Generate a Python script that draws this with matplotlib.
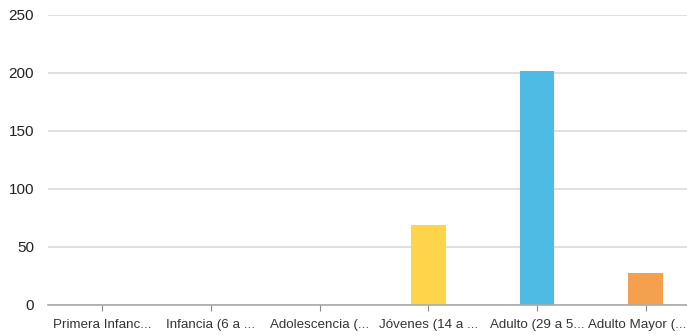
import matplotlib.pyplot as plt
import matplotlib.transforms as mtransforms
import numpy as np

categories = ["Primera Infanc...", "Infancia (6 a ...", "Adolescencia (...",
              "Jóvenes (14 a ...", "Adulto (29 a 5...", "Adulto Mayor (..."]
values = [0, 0, 0, 69, 202, 28]
colors = ["#4DBBE3", "#4DBBE3", "#4DBBE3", "#FDD44A", "#4DBBE3", "#F4A04E"]
yticks = [0, 50, 100, 150, 200, 250]

plt.rcParams['font.family'] = ['Liberation Sans', 'DejaVu Sans']

fig = plt.figure(figsize=(6.87, 3.35), dpi=100)
W, H = 687, 335
ax = fig.add_axes([48 / W, (H - 305) / H, (700 - 48) / W, 290 / H])

x = np.arange(len(categories))
ax.bar(x, values, width=0.32, color=colors, zorder=3)

ax.set_xlim(-0.5, len(categories) - 0.5)
ax.set_ylim(0, 250)
ax.set_yticks(yticks)
ax.set_xticks(x)
ax.set_xticklabels(categories)
ax.grid(axis='y', color='#D9D9D9', linewidth=1.2, zorder=0)
ax.set_axisbelow(True)

for s in ['top', 'right', 'left']:
    ax.spines[s].set_visible(False)
ax.spines['bottom'].set_color('#AAAAAA')
ax.spines['bottom'].set_linewidth(1.2)
ax.spines['bottom'].set_zorder(4)

ax.tick_params(axis='y', length=0, pad=10, labelsize=11, labelcolor='#222222')
ax.tick_params(axis='x', length=4, color='#888888', pad=6, labelsize=9.6, labelcolor='#333333')

# correr la ultima etiqueta unos pixeles a la izquierda para que no se corte
last = ax.get_xticklabels()[-1]
last.set_transform(last.get_transform() + mtransforms.ScaledTranslation(-8 / 100, 0, fig.dpi_scale_trans))

fig.savefig("out.png", dpi=100)
